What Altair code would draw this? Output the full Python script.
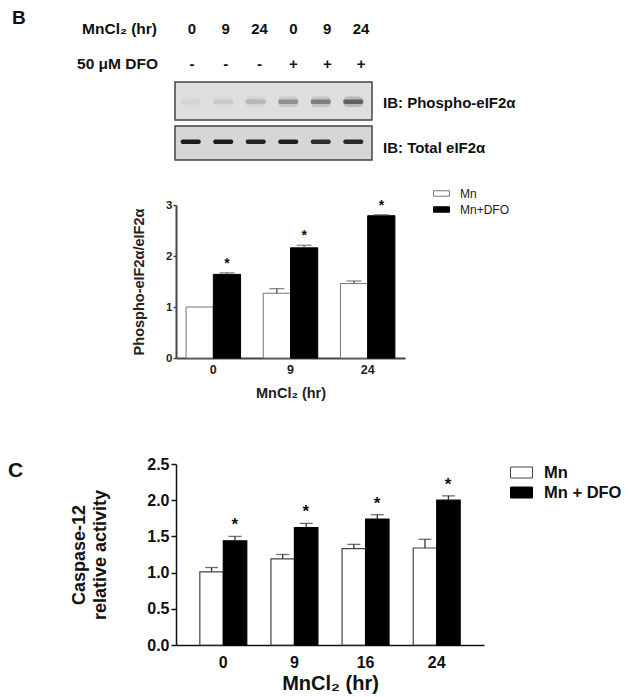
import altair as alt
import pandas as pd

FONT = "Liberation Sans"

# ---------------- Panel B data ----------------
b_times = ["0", "9", "24"]
b_groups = ["Mn", "Mn+DFO"]
b_mn = [1.00, 1.27, 1.46]
b_mn_err = [0.0, 0.09, 0.05]
b_dfo = [1.64, 2.16, 2.79]
b_dfo_err = [0.03, 0.05, 0.02]

# ---------------- Panel C data ----------------
c_times = ["0", "9", "16", "24"]
c_groups = ["Mn", "Mn + DFO"]
c_mn = [1.01, 1.19, 1.33, 1.34]
c_mn_err = [0.06, 0.06, 0.06, 0.12]
c_dfo = [1.44, 1.62, 1.74, 2.00]
c_dfo_err = [0.06, 0.06, 0.06, 0.06]

# ---------------- Western blot lanes ----------------
lane_ids = ["1", "2", "3", "4", "5", "6"]
lane_times = ["0", "9", "24", "0", "9", "24"]
lane_dfo = ["-", "-", "-", "+", "+", "+"]
phospho_intensity = [0.04, 0.09, 0.18, 0.38, 0.48, 0.66]
total_intensity = [0.95, 0.95, 0.90, 0.93, 0.85, 0.88]

H = 687  # total drawing height


def bar_frame(times, groups, mn, mn_err, dfo, dfo_err):
    rows = []
    for i, t in enumerate(times):
        rows.append(dict(time=t, grp="Mn", label=groups[0], value=mn[i],
                         upper=mn[i] + mn_err[i], err=mn_err[i], star=""))
        rows.append(dict(time=t, grp="DFO", label=groups[1], value=dfo[i],
                         upper=dfo[i] + dfo_err[i], err=dfo_err[i], star="*"))
    return pd.DataFrame(rows)


bdf = bar_frame(b_times, b_groups, b_mn, b_mn_err, b_dfo, b_dfo_err)
cdf = bar_frame(c_times, c_groups, c_mn, c_mn_err, c_dfo, c_dfo_err)
lanes = pd.DataFrame(dict(lane=lane_ids, time=lane_times, dfo=lane_dfo,
                          phospho=phospho_intensity, total=total_intensity))
lanes["halo"] = lanes["phospho"] * 0.35

one = alt.Data(values=[{}])


def txt(s, x, y, size, align="left", weight="bold", color="#111", baseline="middle"):
    return alt.Chart(one).mark_text(
        text=s, font=FONT, fontSize=size, fontWeight=weight, align=align,
        baseline=baseline, color=color
    ).encode(x=alt.value(x), y=alt.value(y))


def panel(df, times, groups, xrange, pin, pout, ydom, yrange, xaxis, yaxis,
          legend, white_stroke, stroke_w, err_color, cap, star_size, star_dy, star_dx):
    xs = alt.Scale(domain=times, range=xrange, paddingInner=pin, paddingOuter=pout)
    ys = alt.Scale(domain=ydom, range=yrange, nice=False, zero=True)
    xo = alt.XOffset("grp:N", scale=alt.Scale(domain=["Mn", "DFO"], paddingInner=0, paddingOuter=0))
    bars = alt.Chart(df).mark_bar(strokeWidth=stroke_w).encode(
        x=alt.X("time:N", scale=xs, axis=xaxis),
        xOffset=xo,
        y=alt.Y("value:Q", scale=ys, axis=yaxis),
        fill=alt.Fill("label:N", scale=alt.Scale(domain=groups, range=["white", "black"]), legend=legend),
        stroke=alt.Stroke("label:N", scale=alt.Scale(domain=groups, range=[white_stroke, "black"]), legend=None),
    )
    edf = df[df["err"] > 0]
    rule = alt.Chart(edf).mark_rule(color=err_color, strokeWidth=1.3).encode(
        x=alt.X("time:N", scale=xs, axis=None), xOffset=xo,
        y=alt.Y("value:Q", scale=ys, axis=None), y2="upper:Q")
    caps = alt.Chart(edf).mark_tick(color=err_color, thickness=1.3, size=cap).encode(
        x=alt.X("time:N", scale=xs, axis=None), xOffset=xo,
        y=alt.Y("upper:Q", scale=ys, axis=None))
    stars = alt.Chart(df[df["star"] != ""]).mark_text(
        font=FONT, fontSize=star_size, fontWeight="bold", baseline="middle",
        dy=star_dy, dx=star_dx, color="#111").encode(
        x=alt.X("time:N", scale=xs, axis=None), xOffset=xo,
        y=alt.Y("upper:Q", scale=ys, axis=None), text="star:N")
    return [bars, rule, caps, stars]


# ---------------- Panel B ----------------
b_xaxis = alt.Axis(orient="bottom", offset=-(H - 350), title="MnCl₂ (hr)", labelAngle=0, ticks=False,
                   domainColor="#444", domainWidth=2, labelFontSize=12.5, labelFontWeight="bold",
                   labelColor="#222", labelPadding=5, titleFontSize=14.5, titleFontWeight="bold",
                   titleColor="#222", titlePadding=11)
b_yaxis = alt.Axis(orient="left", offset=-168, values=[0, 1, 2, 3], format="d", grid=False,
                   tickSize=3, tickColor="#444", tickWidth=1.5, domainColor="#444", domainWidth=2,
                   labelFontSize=11.5, labelFontWeight="bold", labelColor="#222", labelPadding=1,
                   title="Phospho-eIF2α/eIF2α", titleFontSize=14.5, titleFontWeight="bold",
                   titleColor="#222", titlePadding=19)
b_legend = alt.Legend(orient="none", legendX=425, legendY=177, title=None,
                      symbolType="M-1,-0.34H1V0.34H-1Z", symbolSize=256,
                      symbolStrokeColor="#444", symbolStrokeWidth=1, labelFontSize=12,
                      labelColor="#222", labelOffset=10, rowPadding=1, padding=0, symbolOffset=0)
layers_b = panel(bdf, b_times, b_groups, [168, 397], 0.294, 0.131, [0, 3], [350, 197],
                 b_xaxis, b_yaxis, b_legend, "#777", 1, "#555", 15, 14, -9, -13.5)

# ---------------- Panel C ----------------
c_xaxis = alt.Axis(orient="bottom", offset=-(H - 637), title="MnCl₂ (hr)", labelAngle=0, ticks=False,
                   domainColor="#111", domainWidth=1.5, labelFontSize=16, labelFontWeight="bold",
                   labelColor="#111", labelPadding=9, titleFontSize=20, titleFontWeight="bold",
                   titleColor="#111", titlePadding=3)
c_yaxis = alt.Axis(orient="left", offset=-168, values=[0, 0.5, 1, 1.5, 2, 2.5], format=".1f",
                   grid=False, tickSize=5, tickColor="#111", tickWidth=1.5, domainColor="#111",
                   domainWidth=1.5, labelFontSize=16, labelFontWeight="bold", labelColor="#111",
                   labelPadding=2, title=["Caspase-12", "relative activity"], titleFontSize=18,
                   titleFontWeight="bold", titleColor="#111", titlePadding=37, titleLineHeight=21)
c_legend = alt.Legend(orient="none", legendX=502, legendY=453, title=None,
                      symbolType="M-1,-0.5H1V0.5H-1Z", symbolSize=484,
                      symbolStrokeColor="#222", symbolStrokeWidth=1, labelFontSize=16.5,
                      labelFontWeight="bold", labelColor="#111", labelOffset=11, rowPadding=-2,
                      padding=0, symbolOffset=0)
layers_c = panel(cdf, c_times, c_groups, [168, 476], 0.34, 0.335, [0, 2.5], [637, 456],
                 c_xaxis, c_yaxis, c_legend, "#444", 1.2, "#333", 13, 17, -11, -12)

# ---------------- Blot panel ----------------
lane_text_scale = alt.Scale(domain=lane_ids, range=[167, 370], paddingInner=0, paddingOuter=0)
band_scale = alt.Scale(domain=lane_ids, range=[167, 361], paddingInner=0.385, paddingOuter=0.176)

blot1 = alt.Chart(one).mark_rect(fill="#dedede", stroke="#444", strokeWidth=1.5).encode(
    x=alt.value(167), x2=alt.value(364), y=alt.value(74), y2=alt.value(112))
blot2 = alt.Chart(one).mark_rect(fill="#d6d6d6", stroke="#444", strokeWidth=1.5).encode(
    x=alt.value(167), x2=alt.value(364), y=alt.value(118), y2=alt.value(152))
phalo = alt.Chart(lanes).mark_rect(color="#444", cornerRadius=4).encode(
    x=alt.X("lane:N", scale=band_scale, axis=None),
    y=alt.value(88.5), y2=alt.value(99),
    opacity=alt.Opacity("halo:Q", scale=None))
pbands = alt.Chart(lanes).mark_rect(color="#333", cornerRadius=2).encode(
    x=alt.X("lane:N", scale=band_scale, axis=None),
    y=alt.value(91.5), y2=alt.value(96),
    opacity=alt.Opacity("phospho:Q", scale=None))
tbands = alt.Chart(lanes).mark_rect(color="#111", cornerRadius=2).encode(
    x=alt.X("lane:N", scale=band_scale, axis=None),
    y=alt.value(131.5), y2=alt.value(136),
    opacity=alt.Opacity("total:Q", scale=None))
lane_t = alt.Chart(lanes).mark_text(font=FONT, fontSize=15, fontWeight="bold", baseline="middle",
                                    color="#111").encode(
    x=alt.X("lane:N", scale=lane_text_scale, axis=None), y=alt.value(21), text="time:N")
lane_d = alt.Chart(lanes).mark_text(font=FONT, fontSize=15, fontWeight="bold", baseline="middle",
                                    color="#111").encode(
    x=alt.X("lane:N", scale=lane_text_scale, axis=None), y=alt.value(56), text="dfo:N")

annotations = [
    txt("B", 4, 16, 19, baseline="alphabetic"),
    txt("MnCl₂ (hr)", 149, 21, 15.5, align="right"),
    txt("50 μM DFO", 150, 56, 15.5, align="right"),
    txt("IB: Phospho-eIF2α", 375, 95, 15),
    txt("IB: Total eIF2α", 375, 140, 15),
    txt("C", 0, 463, 21),
]

chart = alt.layer(
    *layers_b, *layers_c, blot1, blot2, phalo, pbands, tbands, lane_t, lane_d, *annotations
).resolve_scale(
    x="independent", y="independent", xOffset="independent",
    fill="independent", stroke="independent", opacity="independent"
).resolve_axis(x="independent", y="independent").resolve_legend(
    fill="independent", stroke="independent"
).properties(
    width=613, height=H, padding=0, autosize=alt.AutoSizeParams(type="none")
).configure_view(stroke=None).configure_axis(
    labelFont=FONT, titleFont=FONT
).configure_legend(labelFont=FONT)

chart.save("out.html", embed_options={"renderer": "svg", "actions": False})
